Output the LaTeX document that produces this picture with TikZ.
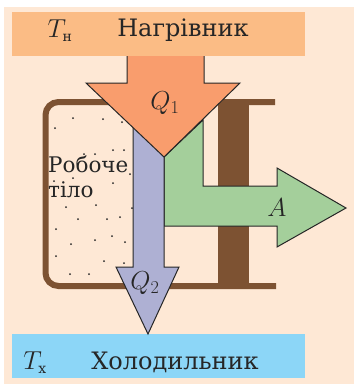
\documentclass[tikz,border=0pt]{standalone}
\usepackage{fix-cm}
\usepackage{fontspec}
\setmainfont{DejaVu Serif}
\usetikzlibrary{positioning}
\definecolor{pagebg}{HTML}{FEE8D5}
\definecolor{hotbox}{HTML}{FBBC85}
\definecolor{coldbox}{HTML}{8CD6F7}
\definecolor{wallbrown}{HTML}{7D5232}
\definecolor{heatred}{HTML}{F99D6D}
\definecolor{heatblue}{HTML}{AEB0D3}
\definecolor{workgreen}{HTML}{A4CF9B}
\definecolor{inkdark}{HTML}{262626}

\begin{document}
\begin{tikzpicture}[
    x=1pt, y=-1pt,
    every node/.style={align=center, text=inkdark, inner sep=0pt},
]

% --- Style definitions ---
\tikzset{
    reservoir/.style = {minimum width=293pt, minimum height=44pt, anchor=north west},
    lbl/.style = {font=\fontsize{24}{26}\selectfont},
    symb/.style = {font=\fontsize{26}{28}\selectfont},
    wall/.style = {draw=wallbrown, line width=6pt},
    flow/.style = {draw=inkdark, line width=1pt, line join=miter},
    grain/.style = {fill=inkdark, circle, minimum size=2pt},
}

\useasboundingbox (0,0) rectangle (354,384);
\fill[pagebg] (4,7) rectangle (354,384);

% --- Reservoirs ---
\node (hot) [reservoir, fill=hotbox] at (12,12) {};
\node (cold) [reservoir, fill=coldbox] at (12,334) {};

% --- Cylinder and piston ---
\draw [wall, rounded corners=13pt] (275,102) -- (45.5,102) -- (45.5,286) -- (276,286);
\fill [wallbrown] (218,102) rectangle (249,286);

% --- Working body grains ---
\foreach \px/\py in {73/118, 103/119, 122/122, 55/128, 113/150, 124/150, 84/154, 95/154,
    130/174, 54/181, 73/178, 113/183, 66/207, 96/205, 132/208, 78/219, 107/219, 120/217,
    56/229, 71/244, 95/240, 112/236, 125/242, 56/256, 104/261, 124/263, 70/274, 89/274}
    \node [grain] at (\px,\py) {};

% --- Arrows ---
\draw [flow, fill=workgreen] (164,157) -- (203,120) -- (203,186) -- (277,186) -- (277,168)
    -- (346,208) -- (277,247) -- (277,226) -- (164,226) -- cycle;
\draw [flow, fill=heatblue] (133,120) -- (133,267) -- (116,267) -- (148,334) -- (179,267)
    -- (164,267) -- (164,120) -- cycle;
\draw [flow, fill=heatred] (127,56) -- (127,83) -- (86,83) -- (164,157) -- (240,83)
    -- (204,83) -- (204,56);

% --- Labels ---
\node (hotT) [symb] at (60,31) {$T_{\mbox{\fontsize{14}{14}\selectfont н}}$};
\node (hotname) [lbl] at (183,30) {Нагрівник};
\node (coldT) [symb] at (35,363) {$T_{\mbox{\fontsize{14}{14}\selectfont х}}$};
\node (coldname) [lbl] at (175,362) {Холодильник};
\node (body) [lbl, anchor=base west, align=left, font=\fontsize{21.5}{25}\selectfont] at (48,197) {Робоче\\тіло};
\node (qone) [symb] at (165,103) {$Q_1$};
\node (qtwo) [symb] at (145,283) {$Q_2$};
\node (work) [symb] at (277,208) {$A$};

\end{tikzpicture}
\end{document}
